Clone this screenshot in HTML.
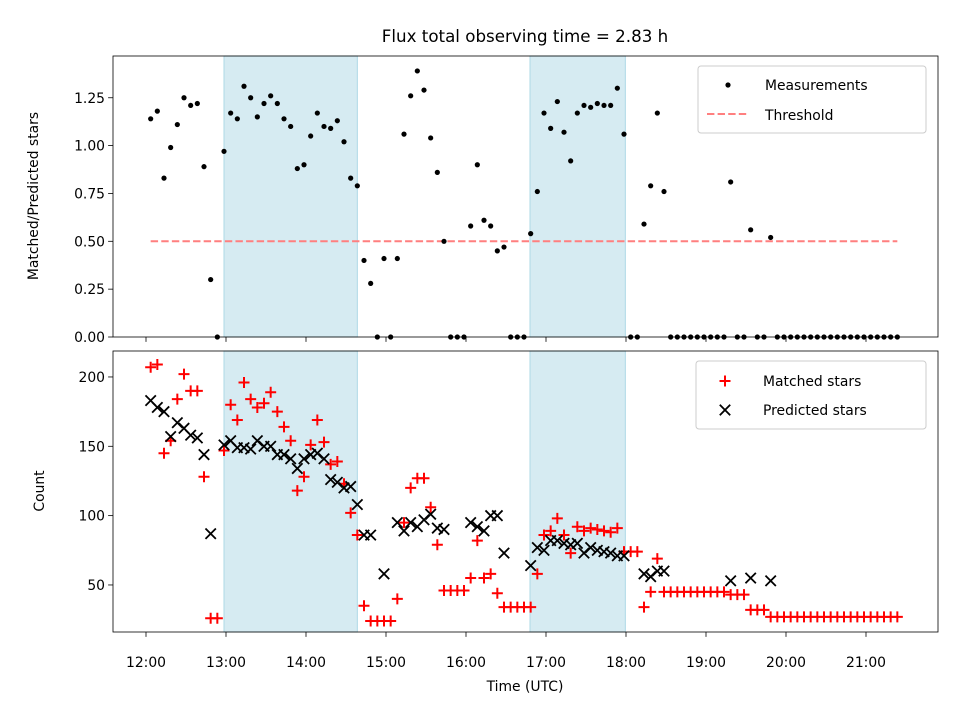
<!DOCTYPE html>
<html><head><meta charset="utf-8"><style>
html,body{margin:0;padding:0;background:#fff;}
svg text{font-family:"DejaVu Sans","Liberation Sans",sans-serif;fill:#000;}
</style></head><body>
<svg id="fig" width="960" height="720" viewBox="0 0 960 720" xmlns="http://www.w3.org/2000/svg">
<rect width="960" height="720" fill="#fff"/>
<text x="525" y="42" font-size="16.7" text-anchor="middle">Flux total observing time = 2.83 h</text>
<g id="topPanel"></g>
<g id="botPanel"></g>
<text transform="translate(38,196) rotate(-90)" font-size="13.9" text-anchor="middle">Matched/Predicted stars</text>
<text transform="translate(44,491) rotate(-90)" font-size="13.9" text-anchor="middle">Count</text>
<text x="525" y="691" font-size="13.9" text-anchor="middle">Time (UTC)</text>
</svg>
<script>
// minutes after 12:00 UTC
const ratioTimes=[3.5,8.5,13.5,18.5,23.5,28.5,33.5,38.5,43.5,48.5,53.5,58.5,63.5,68.5,73.5,78.5,83.5,88.5,93.5,98.5,103.5,108.5,113.5,118.5,123.5,128.5,133.5,138.5,143.5,148.5,153.5,158.5,163.5,168.5,173.5,178.5,183.5,188.5,193.5,198.5,203.5,208.5,213.5,218.5,223.5,228.5,233.5,238.5,243.5,248.5,253.5,258.5,263.5,268.5,273.5,278.5,283.5,288.5,293.5,298.5,303.5,308.5,313.5,318.5,323.5,328.5,333.5,338.5,343.5,348.5,353.5,358.5,363.5,368.5,373.5,378.5,383.5,388.5,393.5,398.5,403.5,408.5,413.5,418.5,423.5,428.5,433.5,438.5,443.5,448.5,453.5,458.5,463.5,468.5,473.5,478.5,483.5,488.5,493.5,498.5,503.5,508.5,513.5,518.5,523.5,528.5,533.5,538.5,543.5,548.5,553.5,558.5,563.5];
const ratioValues=[1.14,1.18,0.83,0.99,1.11,1.25,1.21,1.22,0.89,0.30,0,0.97,1.17,1.14,1.31,1.25,1.15,1.22,1.26,1.22,1.14,1.10,0.88,0.90,1.05,1.17,1.10,1.09,1.13,1.02,0.83,0.79,0.40,0.28,0,0.41,0,0.41,1.06,1.26,1.39,1.29,1.04,0.86,0.50,0,0,0,0.58,0.90,0.61,0.58,0.45,0.47,0,0,0,0.54,0.76,1.17,1.09,1.23,1.07,0.92,1.17,1.21,1.20,1.22,1.21,1.21,1.30,1.06,0,0,0.59,0.79,1.17,0.76,0,0,0,0,0,0,0,0,0,0.81,0,0,0.56,0,0,0.52,0,0,0,0,0,0,0,0,0,0,0,0,0,0,0,0,0,0,0];
const matchedTimes=ratioTimes;
const matchedValues=[207,209,145,154,184,202,190,190,128,26,26,147,180,169,196,184,178,181,189,175,164,154,118,128,151,169,153,137,139,123,102,86,35,24,24,24,24,40,95,120,127,127,106,79,46,46,46,46,55,82,55,58,44,34,34,34,34,34,58,86,89,98,86,73,92,89,91,90,89,88,91,74,74,74,34,45,69,45,45,45,45,45,45,45,45,45,45,43,43,43,32,32,32,27,27,27,27,27,27,27,27,27,27,27,27,27,27,27,27,27,27,27,27];
const predTimes=[3.5,8.5,13.5,18.5,23.5,28.5,33.5,38.5,43.5,48.5,58.5,63.5,68.5,73.5,78.5,83.5,88.5,93.5,98.5,103.5,108.5,113.5,118.5,123.5,128.5,133.5,138.5,143.5,148.5,153.5,158.5,163.5,168.5,178.5,188.5,193.5,198.5,203.5,208.5,213.5,218.5,223.5,243.5,248.5,253.5,258.5,263.5,268.5,288.5,293.5,298.5,303.5,308.5,313.5,318.5,323.5,328.5,333.5,338.5,343.5,348.5,353.5,358.5,373.5,378.5,383.5,388.5,438.5,453.5,468.5];
const predValues=[183,178,175,157,167,163,158,156,144,87,151,154,149,149,148,154,150,150,144,144,141,134,141,144,145,141,126,124,120,121,108,86,86,58,95,89,95,92,97,101,91,90,95,92,89,100,100,73,64,77,75,82,82,80,79,80,73,77,75,74,73,71,71,58,56,60,60,53,55,53];
const threshold=[0.5];
const thresholdRange=[3.5,563.5];
const shadeStarts=[58.5,288];
const shadeEnds=[158.5,359.5];
const xTickMinutes=[0,60,120,180,240,300,360,420,480,540];
const xTickLabels=["12:00","13:00","14:00","15:00","16:00","17:00","18:00","19:00","20:00","21:00"];
const topTicks=[0,0.25,0.5,0.75,1.0,1.25];
const topTickLabels=["0.00","0.25","0.50","0.75","1.00","1.25"];
const botTicks=[50,100,150,200];
const botTickLabels=["50","100","150","200"];

const NS="http://www.w3.org/2000/svg";
const L=113,R=938;
const xs=m=>146+m*80/60;
const yTop=v=>337-v*191.4;
const yBot=v=>654.3-v*1.3867;
function mk(tag,attrs,parent){const e=document.createElementNS(NS,tag);for(const k in attrs)e.setAttribute(k,attrs[k]);parent.appendChild(e);return e;}

function panel(g,y0,y1,yf,ticks,labels,showX){
  for(let i=0;i<shadeStarts.length;i++){
    const r=mk('rect',{x:xs(shadeStarts[i]),y:y0,width:xs(shadeEnds[i])-xs(shadeStarts[i]),height:y1-y0,fill:'#add8e6','fill-opacity':0.5,stroke:'#add8e6','stroke-width':1},g);
    
    
  }
  ticks.forEach((v,i)=>{
    const y=yf(v);
    const t=mk('line',{x1:L-4.9,x2:L,y1:y,y2:y,stroke:'#000','stroke-width':0.8},g);
    
    
    const tx=mk('text',{x:L-8,y:y+5,'font-size':13.9,'text-anchor':'end'},g);
    tx.textContent=labels[i];
    
    
  });
  xTickMinutes.forEach((m,i)=>{
    const x=xs(m);
    const t=mk('line',{x1:x,x2:x,y1:y1,y2:y1+4.9,stroke:'#000','stroke-width':0.8},g);
    
    
    if(showX){
      const tx=mk('text',{x:x,y:y1+35,'font-size':13.9,'text-anchor':'middle'},g);
      tx.textContent=xTickLabels[i];
      
      
    }
  });
}
const topG=document.getElementById('topPanel'), botG=document.getElementById('botPanel');
panel(topG,56,337,yTop,topTicks,topTickLabels,false);
panel(botG,351,632,yBot,botTicks,botTickLabels,true);

const th=mk('line',{x1:xs(thresholdRange[0]),x2:xs(thresholdRange[1]),y1:yTop(threshold[0]),y2:yTop(threshold[0]),stroke:'#ff7f7f','stroke-width':2,'stroke-dasharray':'7.4,3.2'},topG);


ratioTimes.forEach((m,i)=>{
  const c=mk('circle',{cx:xs(m),cy:yTop(ratioValues[i]),r:2.6,fill:'#000'},topG);
  
  
});
function plus(g,x,y,col){return mk('path',{d:`M${x-5.5},${y}H${x+5.5}M${x},${y-5.5}V${y+5.5}`,stroke:col,'stroke-width':2,fill:'none'},g);}
function cross(g,x,y){return mk('path',{d:`M${x-5.2},${y-5.2}L${x+5.2},${y+5.2}M${x-5.2},${y+5.2}L${x+5.2},${y-5.2}`,stroke:'#000','stroke-width':1.8,fill:'none'},g);}
matchedTimes.forEach((m,i)=>{
  const p=plus(botG,xs(m),yBot(matchedValues[i]),'#ff0000');
  
  
});
predTimes.forEach((m,i)=>{
  const p=cross(botG,xs(m),yBot(predValues[i]));
  
  
});
[[topG,56,337],[botG,351,632]].forEach(([g,a,b])=>{
  const f=mk('rect',{x:L,y:a,width:R-L,height:b-a,fill:'none',stroke:'#000','stroke-width':0.8},g);
  
  
});
const lg1=mk('g',{},topG);


mk('rect',{x:698,y:66,width:228,height:67,rx:3,fill:'#fff','fill-opacity':0.8,stroke:'#ccc','stroke-width':1},lg1);
mk('circle',{cx:728,cy:85,r:2.6,fill:'#000'},lg1);
let t=mk('text',{x:765,y:90,'font-size':13.9},lg1);t.textContent='Measurements';


mk('line',{x1:707,x2:748,y1:114,y2:114,stroke:'#ff7f7f','stroke-width':2,'stroke-dasharray':'7.4,3.2'},lg1);
t=mk('text',{x:765,y:120,'font-size':13.9},lg1);t.textContent='Threshold';


const lg2=mk('g',{},botG);


mk('rect',{x:696,y:361,width:230,height:68,rx:3,fill:'#fff','fill-opacity':0.8,stroke:'#ccc','stroke-width':1},lg2);
plus(lg2,725,381,'#ff0000');
t=mk('text',{x:763,y:386,'font-size':13.9},lg2);t.textContent='Matched stars';


cross(lg2,725,410);
t=mk('text',{x:763,y:415,'font-size':13.9},lg2);t.textContent='Predicted stars';


</script>
</body></html>
